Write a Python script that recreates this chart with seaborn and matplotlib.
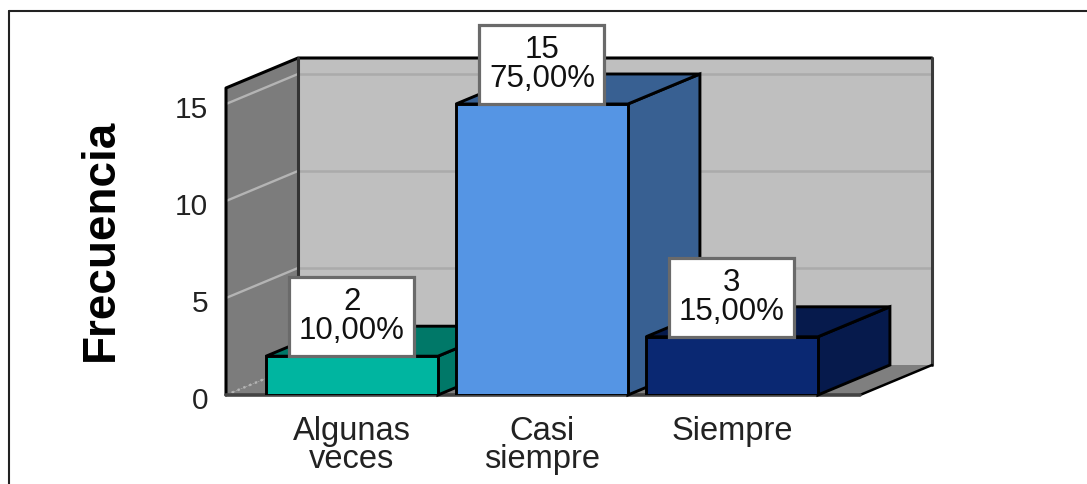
import matplotlib
matplotlib.use('Agg')
import matplotlib.pyplot as plt
import seaborn as sns
from matplotlib.lines import Line2D
from matplotlib.patches import Polygon, Rectangle
from matplotlib.transforms import ScaledTranslation

# datos del grafico
categorias = ['Algunas\nveces', 'Casi\nsiempre', 'Siempre']
frecuencias = [2, 15, 3]
porcentajes = ['10,00%', '75,00%', '15,00%']
ticks_y = [0, 5, 10, 15]

# colores
colores_frente = ['#00B5A0', '#5595E4', '#0A2872']
colores_lado = ['#007868', '#386092', '#061A4C']

sns.set_theme(style='white')
plt.rcParams['font.family'] = ['Liberation Sans', 'DejaVu Sans']

W, H = 1087, 484
fig = plt.figure(figsize=(W / 100, H / 100), dpi=100, facecolor='white')
ax = fig.add_axes([226 / W, (H - 395) / H, 634 / W, 307 / H])
ax.patch.set_visible(False)

sns.barplot(x=categorias, y=frecuencias, hue=categorias, palette=colores_frente,
            saturation=1, width=0.905, edgecolor='black', linewidth=2.1,
            legend=False, ax=ax)
barras = list(ax.patches)

x_min, x_max = -0.663, 2.674
y_max = 307 / 19.4
ax.set_xlim(x_min, x_max)
ax.set_ylim(0, y_max)

# profundidad del efecto 3D en unidades de datos
dx, dy = 72 / 190, 30 / 19.4


def poligono(puntos, color, z, borde='none', lw=0):
    ax.add_patch(Polygon(puntos, closed=True, facecolor=color, edgecolor=borde,
                         linewidth=lw, zorder=z, clip_on=False))


# paredes y piso
poligono([(x_min + dx, dy), (x_max + dx, dy), (x_max + dx, y_max + dy), (x_min + dx, y_max + dy)],
         '#BFBFBF', 0.1)
poligono([(x_min, 0), (x_min + dx, dy), (x_min + dx, y_max + dy), (x_min, y_max)],
         '#7C7C7C', 0.2)
poligono([(x_min, 0), (x_max, 0), (x_max + dx, dy), (x_min + dx, dy)],
         '#7F7F7F', 0.2)

# lineas de cuadricula
for t in ticks_y:
    ax.plot([x_min, x_min + dx], [t, t + dy], color='#B4B4B4', lw=1.7, zorder=0.3, clip_on=False,
            ls=':' if t == 0 else '-')
    if t > 0:
        ax.plot([x_min + dx, x_max + dx], [t + dy, t + dy], color='#ABABAB', lw=1.8, zorder=0.3,
                clip_on=False)

# bordes de las paredes
ax.plot([x_min, x_min, x_min + dx, x_max + dx], [0, y_max, y_max + dy, y_max + dy],
        color='black', lw=2.2, zorder=0.5, clip_on=False)
ax.plot([x_min + dx, x_min + dx], [dy, y_max + dy], color='#333333', lw=2.2, zorder=0.5, clip_on=False)
ax.plot([x_max + dx, x_max + dx], [y_max + dy, dy], color='#3A3A3A', lw=2.2, zorder=0.5, clip_on=False)
ax.plot([x_max + dx, x_max], [dy, 0], color='black', lw=1.8, zorder=0.5, clip_on=False)
ax.plot([x_min, x_max], [0, 0], color='#444444', lw=2.6, zorder=0.5, clip_on=False)

# caras laterales y superiores de cada barra, y la etiqueta encima
for i, barra in enumerate(barras):
    x0 = barra.get_x()
    x1 = x0 + barra.get_width()
    alto = barra.get_height()
    z = 1 + i
    barra.set_zorder(z + 0.5)
    poligono([(x1, 0), (x1 + dx, dy), (x1 + dx, alto + dy), (x1, alto)], colores_lado[i], z, 'black', 2.1)
    poligono([(x0, alto), (x0 + dx, alto + dy), (x1 + dx, alto + dy), (x1, alto)], colores_lado[i], z, 'black', 2.1)

    centro = x0 + barra.get_width() / 2
    ancho_caja, alto_caja = 125 / 190, 79 / 19.4
    ax.add_patch(Rectangle((centro - ancho_caja / 2, alto), ancho_caja, alto_caja, facecolor='white',
                           edgecolor='#6A6A6A', linewidth=2.3, zorder=10, clip_on=False))
    ax.text(centro, alto + alto_caja / 2, f'{frecuencias[i]}\n{porcentajes[i]}', ha='center', va='center',
            fontsize=22.5, linespacing=0.98, color='#111111', zorder=11, clip_on=False)

# ejes
sns.despine(ax=ax, left=True, bottom=True)
ax.set_yticks(ticks_y)
ax.set_xticks(range(len(categorias)))
ax.set_xticklabels(categorias, fontsize=23.5, linespacing=0.9, color='#222222')
ax.tick_params(axis='y', length=0, pad=13, labelsize=21.5, labelcolor='#222222')
ax.tick_params(axis='x', length=0, pad=15)
ax.grid(False)
desplazamiento = ScaledTranslation(0, -3 / 100, fig.dpi_scale_trans)
for etiqueta in ax.get_yticklabels():
    etiqueta.set_transform(etiqueta.get_transform() + desplazamiento)

fig.text(101 / W, 1 - 240 / H, 'Frecuencia', rotation=90, fontsize=33, fontweight='bold',
         ha='center', va='center', color='black')

# marco exterior: solo arriba y a la izquierda
for xs, ys in [([9, 9], [H, 11]), ([9, W], [11, 11])]:
    fig.add_artist(Line2D([x / W for x in xs], [1 - y / H for y in ys], color='#222222', lw=1.5))

fig.savefig('out.png', dpi=100)
